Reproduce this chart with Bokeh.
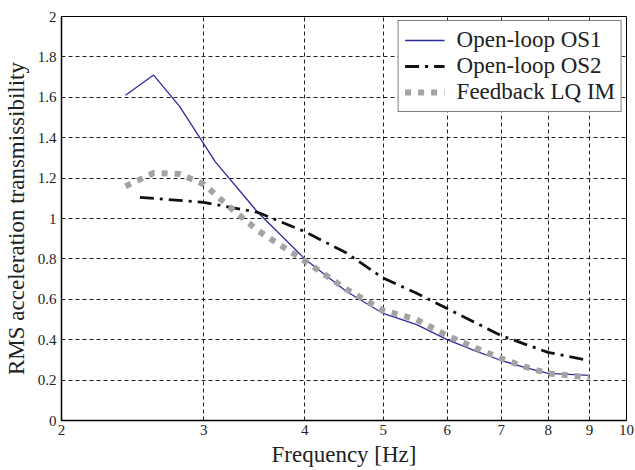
from bokeh.plotting import figure
from bokeh.models import (Range1d, FixedTicker, CustomJSTickFormatter, Legend, LegendItem)
from bokeh.embed import file_html
from bokeh.resources import INLINE

# Frequency grids (Hz) and RMS acceleration transmissibility for each configuration
freq_os1 = [2.4, 2.6, 2.8, 3.1, 3.5, 4.0, 4.5, 5.0, 5.5, 6.0, 6.5, 7.0, 7.5, 8.0, 9.0]
trans_os1 = [1.61, 1.71, 1.555, 1.28, 1.03, 0.80, 0.64, 0.53, 0.475, 0.40, 0.345, 0.297, 0.262, 0.233, 0.223]

freq_os2 = [2.5, 3.0, 3.5, 4.0, 4.5, 5.0, 5.5, 6.0, 6.5, 7.0, 7.5, 8.0, 9.0]
trans_os2 = [1.105, 1.08, 1.03, 0.935, 0.83, 0.705, 0.63, 0.554, 0.485, 0.42, 0.377, 0.337, 0.297]

freq_fb = [2.4, 2.6, 2.8, 3.0, 3.2, 3.5, 4.0, 4.5, 5.0, 5.5, 6.0, 6.5, 7.0, 7.5, 8.0, 9.0]
trans_fb = [1.16, 1.225, 1.22, 1.17, 1.07, 0.94, 0.79, 0.65, 0.545, 0.50, 0.42, 0.36, 0.307, 0.265, 0.233, 0.213]

x_ticks = [2, 3, 4, 5, 6, 7, 8, 9, 10]
y_ticks = [0, 0.2, 0.4, 0.6, 0.8, 1.0, 1.2, 1.4, 1.6, 1.8, 2.0]

labels = ["Open-loop OS1", "Open-loop OS2", "Feedback LQ IM"]

FONT = "'Liberation Serif', 'Times New Roman', serif"

p = figure(
    frame_width=565, frame_height=404,
    min_border_left=60, min_border_right=9, min_border_top=16, min_border_bottom=50,
    x_axis_type="log",
    x_range=Range1d(2, 10), y_range=Range1d(0, 2),
    output_backend="svg", toolbar_location=None,
    background_fill_color="white", border_fill_color="white",
)

p.outline_line_color = "black"
p.outline_line_width = 1

# axes
p.xaxis.ticker = FixedTicker(ticks=x_ticks)
p.yaxis.ticker = FixedTicker(ticks=y_ticks)
p.xaxis.formatter = CustomJSTickFormatter(code="return String(Math.round(tick));")
p.yaxis.formatter = CustomJSTickFormatter(code="return String(Math.round(tick*10)/10);")
for ax in (p.xaxis, p.yaxis):
    ax.major_tick_in = 0
    ax.major_tick_out = 0
    ax.minor_tick_in = 0
    ax.minor_tick_out = 0
    ax.axis_line_color = "black"
    ax.axis_line_width = 1.5
    ax.major_label_text_font = FONT
    ax.major_label_text_font_size = "15px"
    ax.major_label_text_color = "#222222"
    ax.axis_label_text_font = FONT
    ax.axis_label_text_font_size = "23px"
    ax.axis_label_text_font_style = "normal"
    ax.axis_label_text_color = "#222222"
p.xaxis.major_label_standoff = 4
p.yaxis.major_label_standoff = 5
p.xaxis.axis_label = "Frequency [Hz]"
p.yaxis.axis_label = "RMS acceleration transmissibility"
p.xaxis.axis_label_standoff = 4
p.yaxis.axis_label_standoff = 6

# dashed grid
for g in (p.xgrid, p.ygrid):
    g.grid_line_color = "#222222"
    g.grid_line_width = 1
    g.grid_line_dash = "4 3"
    g.grid_line_alpha = 1.0
p.xgrid.ticker = FixedTicker(ticks=x_ticks)
p.ygrid.ticker = FixedTicker(ticks=y_ticks)

r_os1 = p.line(freq_os1, trans_os1, line_color="#2c2c9c", line_width=1.3)
r_os2 = p.line(freq_os2, trans_os2, line_color="#111111", line_width=2.8, line_dash="14 6 3 6")
r_fb = p.line(freq_fb, trans_fb, line_color="#a3a3a3", line_width=6, line_dash="6 7")

legend = Legend(
    items=[LegendItem(label=labels[0], renderers=[r_os1]),
           LegendItem(label=labels[1], renderers=[r_os2]),
           LegendItem(label=labels[2], renderers=[r_fb])],
    location="top_right",
    margin=4, padding=6, spacing=0,
    glyph_width=40, glyph_height=26, label_height=26, label_standoff=12,
    label_text_font=FONT, label_text_font_size="23px", label_text_color="#222222",
    border_line_color="black", border_line_width=1.5,
    background_fill_color="white", background_fill_alpha=1.0,
)
p.add_layout(legend, "center")

open("out.html", "w").write(file_html(p, INLINE))
